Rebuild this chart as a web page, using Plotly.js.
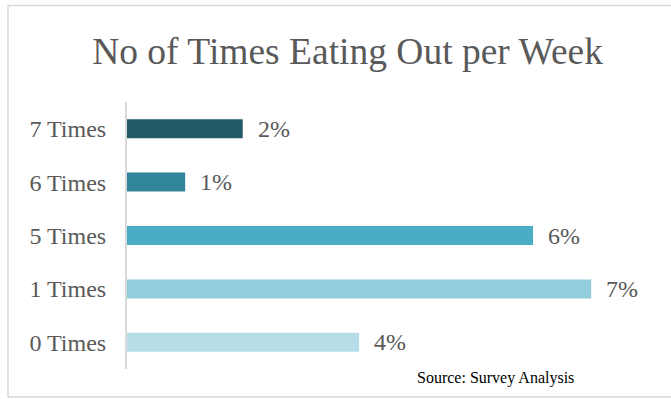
<!DOCTYPE html>
<html>
<head>
<meta charset="utf-8">
<script src="https://cdn.plot.ly/plotly-3.0.1.min.js"></script>
<style>
html,body{margin:0;padding:0;background:#fff;}
#chart{width:671px;height:399px;}
</style>
</head>
<body>
<div id="chart"></div>
<script>
// Data (top to bottom in the chart)
const categories = ["7 Times", "6 Times", "5 Times", "1 Times", "0 Times"];
const percentValues = [1.75, 0.88, 6.14, 7.02, 3.51];
const valueLabels = ["2%", "1%", "6%", "7%", "4%"];
const barColors = ["#215967", "#31869B", "#4BACC6", "#92CDDC", "#B7DEE8"];
const titleText = "No of Times Eating Out per Week";
const sourceText = "Source: Survey Analysis";

const serif = "Liberation Serif, Times New Roman, serif";
const grey = "#595959";

const trace = {
  type: "bar",
  orientation: "h",
  y: categories,
  x: percentValues,
  marker: {color: barColors},
  hoverinfo: "skip"
};

const annotations = categories.map((c, i) => ({
  x: percentValues[i],
  y: c,
  xref: "x",
  yref: "y",
  text: valueLabels[i],
  showarrow: false,
  xanchor: "left",
  yanchor: "middle",
  xshift: 13,
  font: {family: serif, size: 24, color: grey}
}));

annotations.push({
  x: 0.8495,
  y: -0.034,
  xref: "paper",
  yref: "paper",
  text: sourceText,
  showarrow: false,
  xanchor: "right",
  yanchor: "middle",
  font: {family: serif, size: 16, color: "#000000"}
});

const layout = {
  width: 671,
  height: 399,
  margin: {l: 127, r: 15, t: 102, b: 30},
  paper_bgcolor: "#ffffff",
  plot_bgcolor: "#ffffff",
  showlegend: false,
  bargap: 0.644,
  title: {
    text: titleText,
    font: {family: serif, size: 37.5, color: grey},
    x: 0.518,
    xref: "container",
    xanchor: "center",
    y: 0.873,
    yref: "container",
    yanchor: "middle"
  },
  xaxis: {
    range: [0, 8],
    showticklabels: false,
    showgrid: false,
    zeroline: false,
    showline: false,
    fixedrange: true
  },
  yaxis: {
    type: "category",
    categoryorder: "array",
    categoryarray: categories.slice().reverse(),
    autorange: true,
    showline: true,
    linecolor: "#d9d9d9",
    linewidth: 2,
    showgrid: false,
    zeroline: false,
    ticks: "",
    ticklabelstandoff: 14,
    tickfont: {family: serif, size: 24, color: grey},
    fixedrange: true
  },
  annotations: annotations,
  shapes: [{
    type: "rect",
    xref: "paper",
    yref: "paper",
    x0: -0.225,
    x1: 1.06,
    y0: -0.105,
    y1: 1.361,
    line: {color: "#d9d9d9", width: 1.5},
    fillcolor: "rgba(0,0,0,0)",
    layer: "below"
  }]
};

Plotly.newPlot("chart", [trace], layout, {displayModeBar: false, staticPlot: true});
</script>
</body>
</html>
